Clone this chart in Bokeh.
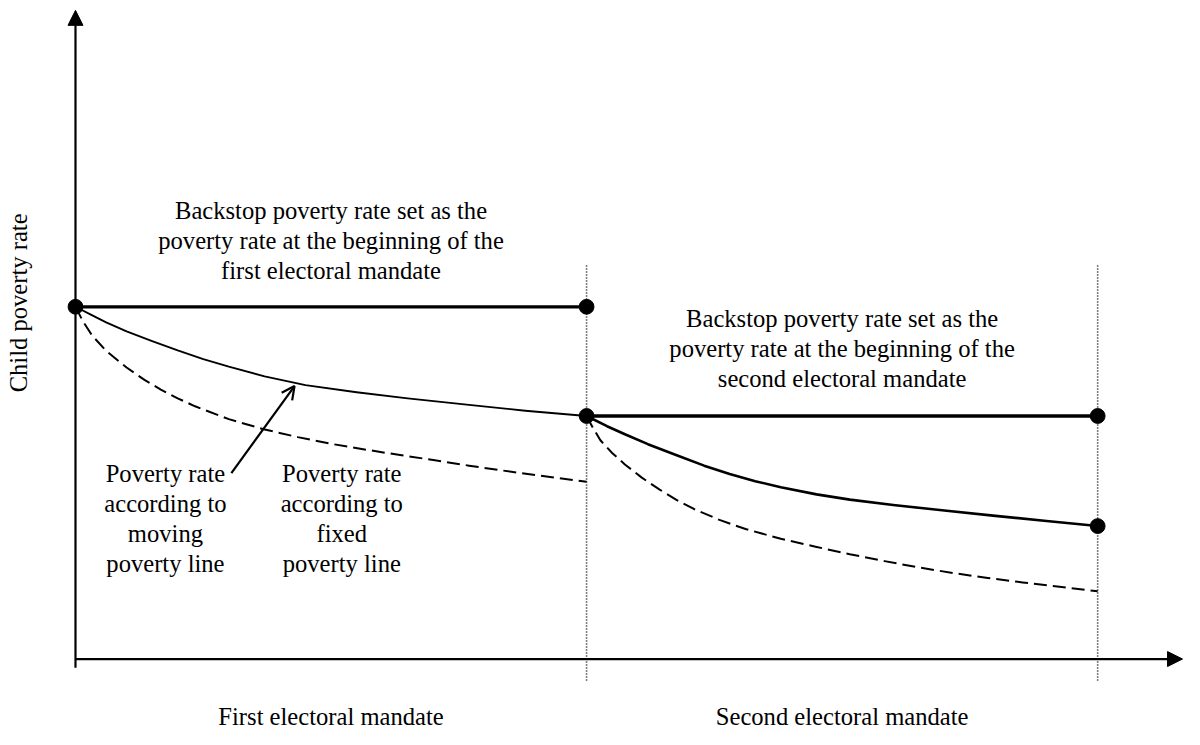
from bokeh.plotting import figure
from bokeh.models import Range1d, Arrow, NormalHead, OpenHead
from bokeh.core.properties import value
from bokeh.embed import file_html
from bokeh.resources import INLINE

# ---------------- data (x: time in electoral mandates, y: child poverty rate) ----------------
mandate_bounds = [0.0, 1.0, 2.0]
backstop_rates = [20.0, 13.8]

# poverty rate according to moving poverty line (solid)
moving1_x = [0.0, 0.03, 0.06, 0.1, 0.15, 0.2, 0.25, 0.3, 0.37, 0.45, 0.55, 0.65, 0.77, 0.88, 1.0]
moving1_y = [20.0, 19.55, 19.12, 18.6, 18.05, 17.52, 17.03, 16.6, 16.05, 15.55, 15.15, 14.8, 14.43, 14.1, 13.8]
moving2_x = [1.0, 1.04, 1.075, 1.12, 1.175, 1.23, 1.28, 1.33, 1.38, 1.45, 1.515, 1.6, 1.7, 1.8, 1.9, 2.0]
moving2_y = [13.8, 13.22, 12.76, 12.2, 11.58, 10.98, 10.5, 10.1, 9.75, 9.35, 9.05, 8.75, 8.43, 8.13, 7.84, 7.55]

# poverty rate according to fixed poverty line (dashed)
fixed1_x = [0.0, 0.015, 0.033, 0.06, 0.1, 0.135, 0.167, 0.2, 0.234, 0.3, 0.368, 0.435, 0.5, 0.57,
            0.635, 0.7, 0.77, 0.87, 1.0]
fixed1_y = [20.0, 19.15, 18.35, 17.5, 16.55, 15.85, 15.3, 14.8, 14.35, 13.62, 13.05, 12.6, 12.22, 11.88,
            11.58, 11.3, 10.98, 10.56, 10.06]
fixed2_x = [1.0, 1.012, 1.027, 1.05, 1.075, 1.108, 1.143, 1.175, 1.21, 1.26, 1.311, 1.38, 1.448, 1.515,
            1.583, 1.65, 1.718, 1.785, 1.853, 1.925, 2.0]
fixed2_y = [13.8, 13.15, 12.42, 11.7, 11.05, 10.3, 9.62, 9.05, 8.52, 7.9, 7.38, 6.83, 6.38, 5.95,
            5.56, 5.2, 4.88, 4.6, 4.35, 4.1, 3.85]

# marked points
dot_x = [0.0, 1.0, 1.0, 2.0, 2.0]
dot_y = [20.0, 20.0, 13.8, 13.8, 7.55]

# texts
backstop1_lines = ["Backstop poverty rate set as the",
                   "poverty rate at the beginning of the",
                   "first electoral mandate"]
backstop2_lines = ["Backstop poverty rate set as the",
                   "poverty rate at the beginning of the",
                   "second electoral mandate"]
moving_lines = ["Poverty rate", "according to", "moving", "poverty line"]
fixed_lines = ["Poverty rate", "according to", "fixed", "poverty line"]
x_labels = ["First electoral mandate", "Second electoral mandate"]
y_label = "Child poverty rate"

# ---------------- figure ----------------
FONT = value("Liberation Serif")
FSIZE = "24.6px"
LINE_STEP = 1.694

p = figure(width=1184, height=729, output_backend="svg", toolbar_location=None,
           x_range=Range1d(-0.14672, 2.16988), y_range=Range1d(-4.0, 37.389),
           min_border=0, min_border_left=0, min_border_right=0,
           min_border_top=0, min_border_bottom=0)
p.axis.visible = False
p.xgrid.visible = False
p.ygrid.visible = False
p.outline_line_color = None
p.background_fill_color = "white"
p.border_fill_color = "white"

# axes with arrow heads
p.add_layout(Arrow(end=NormalHead(size=15, fill_color="black", line_color="black", line_width=1),
                   x_start=0.0, y_start=-0.5, x_end=0.0, y_end=36.83,
                   line_width=2.2, line_color="black"))
p.add_layout(Arrow(end=NormalHead(size=15, fill_color="black", line_color="black", line_width=1),
                   x_start=0.0, y_start=0.0, x_end=2.166, y_end=0.0,
                   line_width=2.2, line_color="black"))

# dotted mandate boundaries
for xb in mandate_bounds[1:]:
    p.line([xb, xb], [-1.22, 22.39], line_color="black", line_width=1.6, line_dash="1 2")

# backstop lines
p.line(mandate_bounds[0:2], [backstop_rates[0]] * 2, line_color="black", line_width=3.3)
p.line(mandate_bounds[1:3], [backstop_rates[1]] * 2, line_color="black", line_width=3.3)

# curves
p.line(moving1_x, moving1_y, line_color="black", line_width=1.9, line_join="round")
p.line(moving2_x, moving2_y, line_color="black", line_width=2.6, line_join="round")
p.line(fixed1_x, fixed1_y, line_color="black", line_width=2.0, line_dash="13 6", line_join="round")
p.line(fixed2_x, fixed2_y, line_color="black", line_width=2.0, line_dash="13 6", line_join="round")

# dots
p.scatter(dot_x, dot_y, size=14.8, fill_color="black", line_color="black")

# pointer arrow
p.add_layout(Arrow(end=OpenHead(size=13, line_width=2.2, line_color="black"),
                   x_start=0.305, y_start=10.56, x_end=0.4286, y_end=15.5,
                   line_width=2.2, line_color="black"))


def add_block(lines, x, y0):
    n = len(lines)
    ys = [y0 - i * LINE_STEP for i in range(n)]
    p.text(x=[x] * n, y=ys, text=lines, text_align="center", text_baseline="middle",
           text_font=FONT, text_font_size=FSIZE, text_color="black")


add_block(backstop1_lines, 0.5, 25.47)
add_block(backstop2_lines, 1.5, 19.31)
add_block(moving_lines, 0.176, 10.53)
add_block(fixed_lines, 0.521, 10.53)

p.text(x=[0.5, 1.5], y=[-3.25, -3.25], text=x_labels, text_align="center",
       text_baseline="middle", text_font=FONT, text_font_size=FSIZE, text_color="black")

p.text(x=[-0.112], y=[20.22], text=[y_label], angle=1.5707963, text_align="center",
       text_baseline="middle", text_font=FONT, text_font_size=FSIZE, text_color="black")

open("out.html", "w").write(file_html(p, INLINE))
